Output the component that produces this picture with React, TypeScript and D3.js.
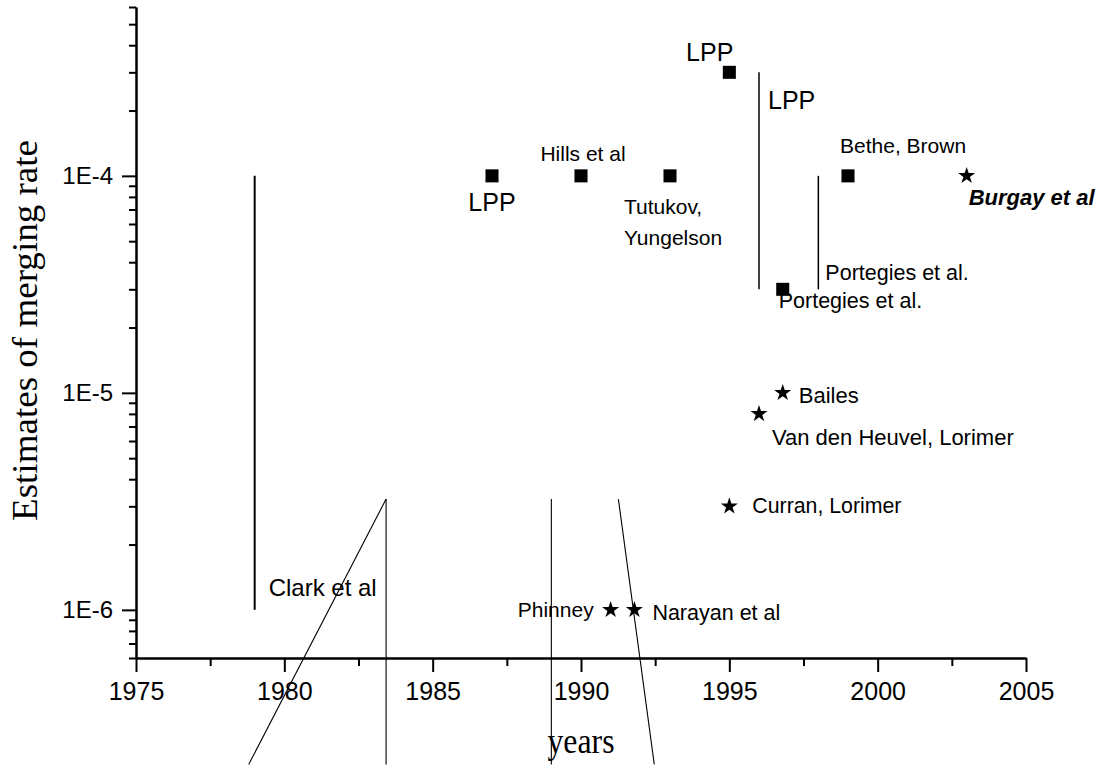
import React, { useRef, useEffect } from 'react';
import * as d3 from 'd3';

// estimates of merging rate vs. year of publication
const squareYears = [1987, 1990, 1993, 1995, 1996.8, 1999];
const squareRates = [1e-4, 1e-4, 1e-4, 3e-4, 3e-5, 1e-4];
const squareLabels = ['LPP', 'Hills et al', 'Tutukov,|Yungelson', 'LPP', 'Portegies et al.', 'Bethe, Brown'];

const starYears = [2003, 1996.8, 1996, 1995, 1991, 1991.8];
const starRates = [1e-4, 1e-5, 8e-6, 3e-6, 1e-6, 1e-6];
const starLabels = ['Burgay et al', 'Bailes', 'Van den Heuvel, Lorimer', 'Curran, Lorimer', 'Phinney', 'Narayan et al'];

// range estimates drawn as vertical bars
const rangeYears = [1979, 1996, 1998];
const rangeLow = [1e-6, 3e-5, 3e-5];
const rangeHigh = [1e-4, 3e-4, 1e-4];
const rangeLabels = ['Clark et al', 'LPP', 'Portegies et al.'];

// stray lines running off the bottom of the frame
const strayFromYears = [1983.43, 1983.43, 1989, 1991.26];
const strayFromRates = [3.24e-6, 3.24e-6, 3.24e-6, 3.24e-6];
const strayToYears = [1983.43, 1978.8, 1989, 1992.47];
const strayToRates = [1.94e-7, 1.94e-7, 1.94e-7, 1.94e-7];

const xTicks = [1975, 1980, 1985, 1990, 1995, 2000, 2005];
const xMinorTicks = [1977.5, 1982.5, 1987.5, 1992.5, 1997.5, 2002.5];
const yTicks = [1e-6, 1e-5, 1e-4];
const yMinorTicks = [6e-7, 7e-7, 8e-7, 9e-7, 2e-6, 3e-6, 4e-6, 5e-6, 6e-6, 7e-6, 8e-6, 9e-6,
  2e-5, 3e-5, 4e-5, 5e-5, 6e-5, 7e-5, 8e-5, 9e-5, 2e-4, 3e-4, 4e-4, 5e-4, 6e-4];

// label placement (offsets from the mark, in px)
const squareLabelPos = [
  { dx: 0, dy: 35, anchor: 'middle', size: 25 },
  { dx: 2, dy: -15, anchor: 'middle', size: 21 },
  { dx: -46, dy: 38, anchor: 'start', size: 21 },
  { dx: 4, dy: -11, anchor: 'end', size: 25 },
  { dx: -4, dy: 19, anchor: 'start', size: 21.5 },
  { dx: -8, dy: -23, anchor: 'start', size: 21 },
];
const starLabelPos = [
  { dx: 2, dy: 29, anchor: 'start', size: 22, bold: true },
  { dx: 16, dy: 10, anchor: 'start', size: 22 },
  { dx: 13, dy: 31, anchor: 'start', size: 22 },
  { dx: 23, dy: 7, anchor: 'start', size: 21.3 },
  { dx: -17, dy: 7, anchor: 'end', size: 21 },
  { dx: 18, dy: 10, anchor: 'start', size: 21.5 },
];
// range labels are placed relative to the bar's low or high end
const rangeLabelPos = [
  { end: 'low', dx: 14, dy: -14, size: 24 },
  { end: 'high', dx: 9, dy: 37, size: 25 },
  { end: 'low', dx: 7, dy: -9, size: 21.5 },
];

const W = 1116;
const H = 766;
const SANS = 'Liberation Sans, Arial, Helvetica, sans-serif';
const SERIF = 'Liberation Serif, Times New Roman, serif';

const App = () => {
  const svgRef = useRef<SVGSVGElement>(null);

  useEffect(() => {
    const svg = d3.select(svgRef.current);
    svg.selectAll('*').remove();

    const margin = { top: 7, right: 90, bottom: 108, left: 136 };

    const x = d3.scaleLinear()
      .domain([1975, 2005])
      .range([margin.left, W - margin.right]);

    const y = d3.scaleLog()
      .domain([6e-7, 6e-4])
      .range([H - margin.bottom, margin.top]);

    const x0 = H - margin.bottom;

    // x axis
    const xAxis = svg.append('g')
      .attr('transform', `translate(0,${x0})`)
      .call(d3.axisBottom(x).tickValues(xTicks).tickFormat(d3.format('d')).tickSize(14).tickSizeOuter(0).tickPadding(10));
    xAxis.selectAll('text')
      .style('font-family', SANS)
      .style('font-size', '25px')
      .attr('fill', '#000');
    svg.append('g')
      .attr('transform', `translate(0,${x0})`)
      .call(d3.axisBottom(x).tickValues(xMinorTicks).tickFormat(() => '').tickSize(8).tickSizeOuter(0));

    // y axis
    const yAxis = svg.append('g')
      .attr('transform', `translate(${margin.left},0)`)
      .call(d3.axisLeft(y).tickValues(yTicks)
        .tickFormat(d => '1E' + Math.round(Math.log10(d as number)))
        .tickSize(14).tickSizeOuter(0).tickPadding(9));
    yAxis.selectAll('text')
      .style('font-family', SANS)
      .style('font-size', '24px')
      .attr('fill', '#000')
      .attr('dy', '0.33em');
    svg.append('g')
      .attr('transform', `translate(${margin.left},0)`)
      .call(d3.axisLeft(y).tickValues(yMinorTicks).tickFormat(() => '').tickSize(7).tickSizeOuter(0));

    svg.selectAll('.domain').attr('stroke', '#000').attr('stroke-width', 2);
    svg.selectAll('.tick line').attr('stroke', '#000').attr('stroke-width', 2);

    // axis titles
    svg.append('text')
      .attr('x', x(1990))
      .attr('y', 753)
      .attr('text-anchor', 'middle')
      .attr('textLength', 67)
      .attr('lengthAdjust', 'spacingAndGlyphs')
      .style('font-family', SERIF)
      .style('font-size', '36px')
      .text('years');

    svg.append('text')
      .attr('transform', `translate(37,${(140 + 521) / 2}) rotate(-90)`)
      .attr('text-anchor', 'middle')
      .attr('textLength', 381)
      .attr('lengthAdjust', 'spacingAndGlyphs')
      .style('font-family', SERIF)
      .style('font-size', '36px')
      .text('Estimates of merging rate');

    // range bars
    rangeYears.forEach((yr, i) => {
      svg.append('line')
        .attr('x1', x(yr)).attr('x2', x(yr))
        .attr('y1', y(rangeLow[i])).attr('y2', y(rangeHigh[i]))
        .attr('stroke', '#000')
        .attr('stroke-width', i === 0 ? 2 : 1.5);
      const p = rangeLabelPos[i];
      const yy = p.end === 'low' ? y(rangeLow[i]) : y(rangeHigh[i]);
      svg.append('text')
        .attr('x', x(yr) + p.dx)
        .attr('y', yy + p.dy)
        .style('font-family', SANS)
        .style('font-size', `${p.size}px`)
        .text(rangeLabels[i]);
    });

    // stray lines
    strayFromYears.forEach((yr, i) => {
      svg.append('line')
        .attr('x1', x(yr)).attr('y1', y(strayFromRates[i]))
        .attr('x2', x(strayToYears[i])).attr('y2', y(strayToRates[i]))
        .attr('stroke', '#000')
        .attr('stroke-width', 1.1);
    });

    // squares
    const square = d3.symbol().type(d3.symbolSquare).size(170);
    squareYears.forEach((yr, i) => {
      svg.append('path')
        .attr('d', square())
        .attr('transform', `translate(${x(yr)},${y(squareRates[i])})`)
        .attr('fill', '#000');
      const p = squareLabelPos[i];
      const lines = squareLabels[i].split('|');
      lines.forEach((ln, j) => {
        svg.append('text')
          .attr('x', x(yr) + p.dx)
          .attr('y', y(squareRates[i]) + p.dy + j * 31)
          .attr('text-anchor', p.anchor)
          .style('font-family', SANS)
          .style('font-size', `${p.size}px`)
          .text(ln);
      });
    });

    // stars
    const star = d3.symbol().type(d3.symbolStar).size(90);
    starYears.forEach((yr, i) => {
      svg.append('path')
        .attr('d', star())
        .attr('transform', `translate(${x(yr)},${y(starRates[i])})`)
        .attr('fill', '#000');
      const p = starLabelPos[i];
      svg.append('text')
        .attr('x', x(yr) + p.dx)
        .attr('y', y(starRates[i]) + p.dy)
        .attr('text-anchor', p.anchor)
        .style('font-family', SANS)
        .style('font-size', `${p.size}px`)
        .style('font-weight', p.bold ? 'bold' : 'normal')
        .style('font-style', p.bold ? 'italic' : 'normal')
        .text(starLabels[i]);
    });
  }, []);

  return (
    <svg
      ref={svgRef}
      width={W}
      height={H}
      style={{ position: 'absolute', left: 0, top: 0, background: '#fff', display: 'block' }}
    />
  );
};

export default App;
